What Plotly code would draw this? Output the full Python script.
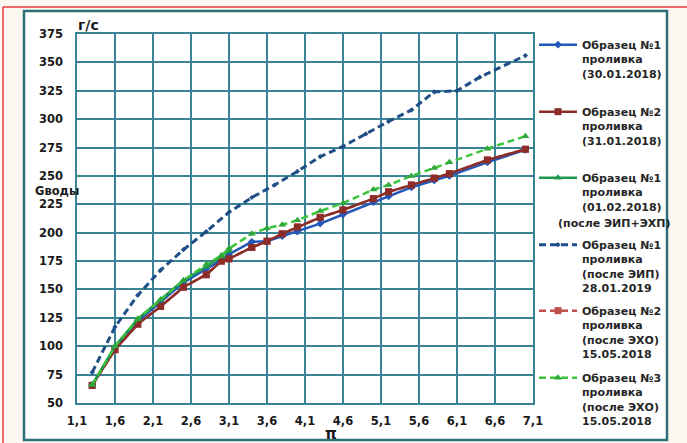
import plotly.graph_objects as go

# ---- data ----
x_main = [1.3, 1.6, 1.9, 2.2, 2.5, 2.8, 3.0, 3.1, 3.4, 3.6, 3.8, 4.0, 4.3, 4.6, 5.0, 5.2, 5.5, 5.8, 6.0, 6.5, 7.0]
s1_3001 = [66, 99, 122, 139, 156, 168, 176, 181, 192, 192.5, 197, 201, 208, 216, 227, 232, 240, 246, 250, 262, 273]
s2_3101 = [65.5, 97, 119.5, 135, 152, 163, 175, 177, 187, 192.5, 199, 205, 213.5, 220, 230, 236, 242, 248, 252, 264, 273.5]
x_s3 = [1.3, 1.6, 1.9, 2.2, 2.5, 2.8, 3.0, 3.1]
s3_0102 = [66, 100, 124, 141, 158, 170, 179, 184]
x_s4 = [1.3, 1.6, 1.9, 2.2, 2.5, 2.8, 3.1, 3.4, 3.7, 4.0, 4.3, 4.6, 4.9, 5.2, 5.5, 5.8, 6.1, 6.4, 7.0]
s4_2801 = [77, 117, 145, 167, 185, 201, 218, 231, 242, 254, 267, 276, 287, 298, 308, 324, 325, 337, 356]
s5_1505 = [65.5, 97, 119.5, 135, 152, 163, 175, 177, 187, 192.5, 199, 205, 213.5, 220, 230, 236, 242, 248, 252, 264, 273.5]
s6_1505 = [66, 100, 124, 141, 158, 172, 180, 186, 199, 204, 207, 211, 219, 226, 238, 242, 250, 257, 262, 274, 285]

names = [
    "Образец №1<br>проливка<br>(30.01.2018)",
    "Образец №2<br>проливка<br>(31.01.2018)",
    "Образец №1<br>проливка<br>(01.02.2018)<br>(после ЭИП+ЭХП)",
    "Образец №1<br>проливка<br>(после ЭИП)<br>28.01.2019",
    "Образец №2<br>проливка<br>(после ЭХО)<br>15.05.2018",
    "Образец №3<br>проливка<br>(после ЭХО)<br>15.05.2018",
]
x_ticks = [1.1, 1.6, 2.1, 2.6, 3.1, 3.6, 4.1, 4.6, 5.1, 5.6, 6.1, 6.6, 7.1]

# ---- layout geometry ----
W, H = 687, 443
L, R, T, B = 77, 154, 34, 40
PW, PH = W - L - R, H - T - B


def px(xp):
    return (xp - L) / PW


def py(yp):
    return (H - B - yp) / PH


# third legend entry: last line is placed separately (it is shifted left in the original)
s3_parts = names[2].split("<br>")
s3_legend_name = "<br>".join(s3_parts[:3])
s3_extra_line = s3_parts[3]

fig = go.Figure()

dash_pat = "7px,4px"
fig.add_trace(go.Scatter(x=x_main, y=s5_1505, name=names[4], mode="lines+markers",
                         line=dict(color="#c0504d", width=2.5, dash=dash_pat),
                         marker=dict(symbol="square", size=7, color="#c0504d"),
                         legend="legend5"))
fig.add_trace(go.Scatter(x=x_main, y=s1_3001, name=names[0], mode="lines+markers",
                         line=dict(color="#2458b8", width=2.5),
                         marker=dict(symbol="diamond", size=6, color="#2458b8"),
                         legend="legend"))
fig.add_trace(go.Scatter(x=x_main, y=s2_3101, name=names[1], mode="lines+markers",
                         line=dict(color="#8c2d2a", width=2.5),
                         marker=dict(symbol="square", size=7, color="#8c2d2a"),
                         legend="legend2"))
fig.add_trace(go.Scatter(x=x_s3, y=s3_0102, name=s3_legend_name, mode="lines+markers",
                         line=dict(color="#1f9a4c", width=2.5),
                         marker=dict(symbol="triangle-up", size=7, color="#1f9a4c"),
                         legend="legend3"))
fig.add_trace(go.Scatter(x=x_s4, y=s4_2801, name=names[3], mode="lines+markers",
                         line=dict(color="#1f4f86", width=3, dash=dash_pat),
                         marker=dict(symbol="diamond", size=4, color="#1f4f86"),
                         legend="legend4"))
fig.add_trace(go.Scatter(x=x_main, y=s6_1505, name=names[5], mode="lines+markers",
                         line=dict(color="#3cc43c", width=2.5, dash=dash_pat),
                         marker=dict(symbol="triangle-up", size=7, color="#2ea83a"),
                         legend="legend6"))

grid_col = "#3a8394"
tick_font = dict(family="DejaVu Sans", size=11.5, color="#1a1a1a", weight="bold")

fig.update_xaxes(range=[1.1, 7.1], tickvals=x_ticks, tickformat=".1f",
                 showgrid=True, gridcolor=grid_col, gridwidth=1.5,
                 showline=True, linecolor=grid_col, linewidth=1.5, mirror=True,
                 zeroline=False, ticks="", tickfont=tick_font, ticklabelstandoff=6,
                 fixedrange=True)
fig.update_yaxes(range=[50, 375], dtick=25, tick0=50,
                 showgrid=True, gridcolor=grid_col, gridwidth=1.5,
                 showline=True, linecolor=grid_col, linewidth=1.5, mirror=True,
                 zeroline=False, ticks="", tickfont=tick_font, ticklabelstandoff=10,
                 fixedrange=True)

shapes = [
    dict(type="rect", xref="paper", yref="paper", x0=px(24), x1=px(667), y0=py(440), y1=py(11),
         line=dict(color="#2f6f78", width=2.5), fillcolor="white", layer="below"),
    dict(type="line", xref="paper", yref="paper", x0=px(3), x1=px(690), y0=py(7), y1=py(7),
         line=dict(color="#e23a3a", width=1.5)),
    dict(type="line", xref="paper", yref="paper", x0=px(3), x1=px(3), y0=py(7), y1=py(446),
         line=dict(color="#e23a3a", width=1.5)),
]

lab_font = dict(family="DejaVu Sans", color="#1a1a1a", weight="bold")
leg_font = dict(family="DejaVu Sans", size=11, color="#262626", weight="bold")
annotations = [
    dict(text="г/с", xref="paper", yref="paper", x=px(76), y=py(25), xanchor="left",
         yanchor="middle", showarrow=False, font=dict(size=14, **lab_font)),
    dict(text="Gводы", xref="paper", yref="paper", x=px(57), y=py(191), xanchor="center",
         yanchor="middle", showarrow=False, font=dict(size=11.5, **lab_font)),
    dict(text="π", xref="paper", yref="paper", x=px(331), y=py(434), xanchor="center",
         yanchor="middle", showarrow=False, font=dict(size=15, **lab_font)),
    dict(text=s3_extra_line, xref="paper", yref="paper", x=px(556), y=py(223), xanchor="left",
         yanchor="middle", showarrow=False, font=leg_font),
]

first_line_centres = [45, 112, 178, 245, 311, 378]
legends = {}
for i, yc in enumerate(first_line_centres):
    key = "legend" if i == 0 else f"legend{i + 1}"
    legends[key] = dict(x=px(534), y=py(yc - 14), xanchor="left", yanchor="top",
                        bgcolor="rgba(0,0,0,0)", borderwidth=0, font=leg_font,
                        itemwidth=38, valign="top")

fig.update_layout(
    width=W, height=H,
    margin=dict(l=L, r=R, t=T, b=B, pad=0, autoexpand=False),
    paper_bgcolor="#fdf7f1",
    plot_bgcolor="white",
    separators=", ",
    shapes=shapes,
    annotations=annotations,
    showlegend=True,
    hovermode=False,
    **legends,
)

fig.write_html("out.html", config={"displayModeBar": False},
               post_script="document.body.style.margin='0';")
